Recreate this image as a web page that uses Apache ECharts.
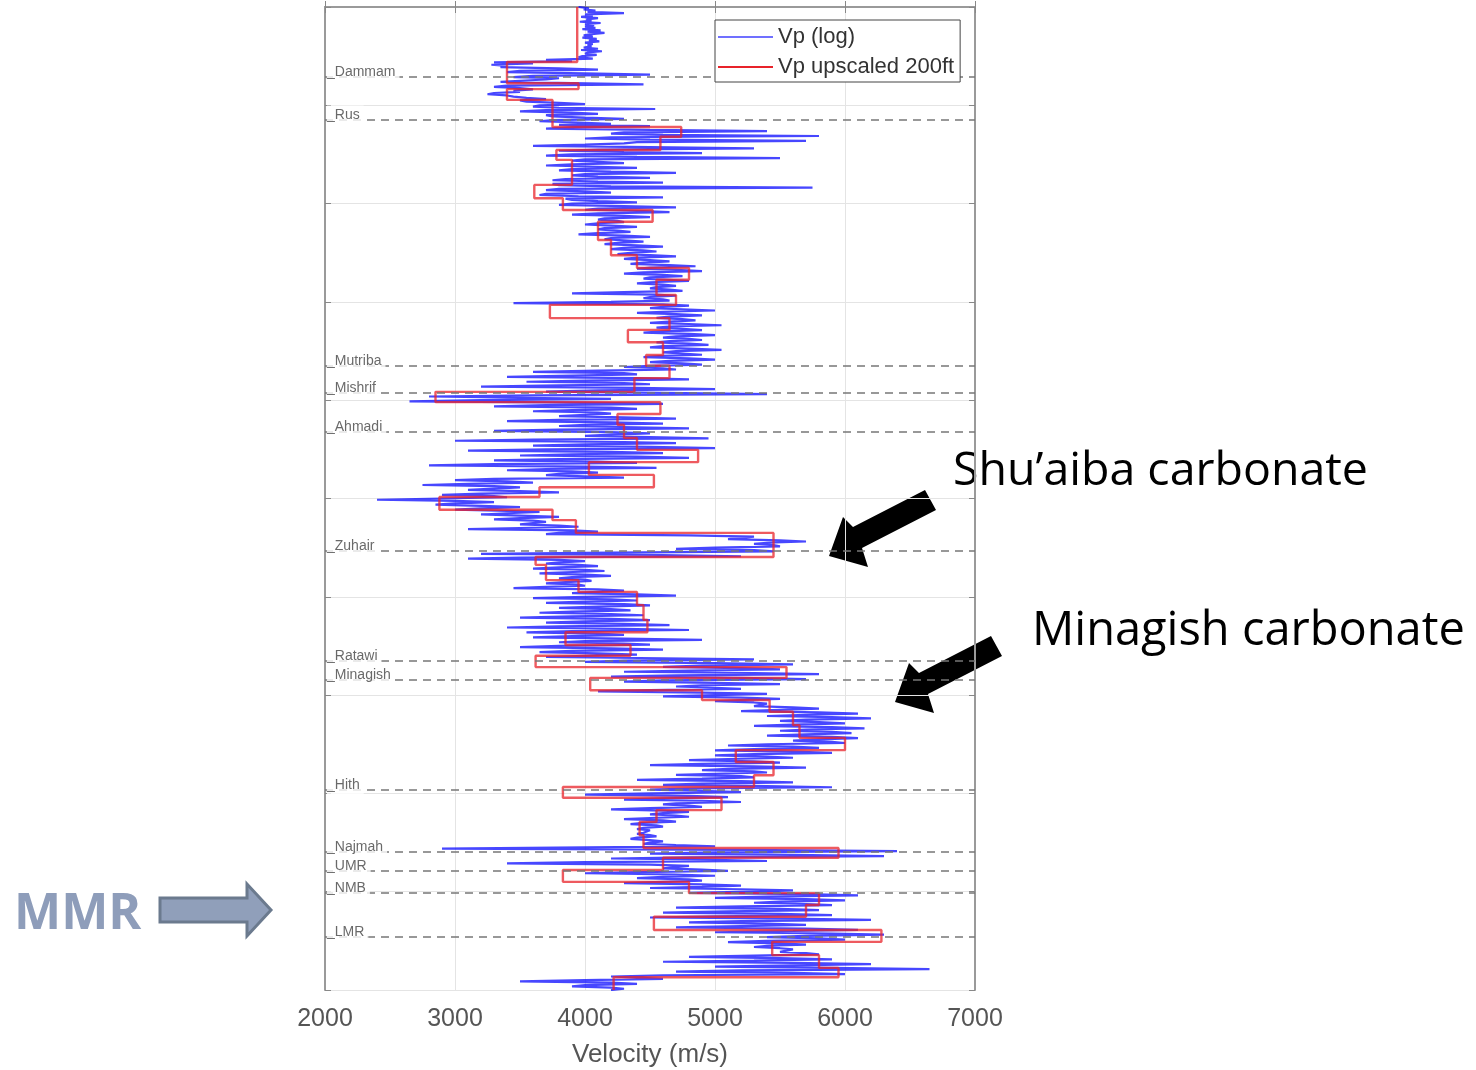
<!DOCTYPE html>
<html><head><meta charset="utf-8">
<script src="https://cdn.jsdelivr.net/npm/echarts@6/dist/echarts.min.js"></script>
<style>html,body{margin:0;padding:0;background:#fff;}#c{width:1476px;height:1070px;}</style>
</head><body><div id="c"></div>
<script>
// depth sampling of the velocity log (relative depth units)
const depthStep = 12.5;
// Vp (log), m/s, one value per depthStep from depth 0
const vpLog = [
3950,4030,3990,4080,4020,4300,4000,4060,3970,4100,4010,4050,3960,4120,4000,4070,
4000,4080,3980,4120,4020,4150,4050,3990,4060,3980,4090,4030,4110,4000,4060,4020,
4050,3990,4100,3970,4130,4020,4000,4090,3980,3950,4060,3700,3900,3300,3600,3280,
3400,3350,3800,4100,3500,3400,4000,4500,3600,3450,3800,3700,3500,3350,3900,4450,
3400,3300,3500,3600,3450,3500,3300,3250,3400,3450,3550,3700,3500,3550,3800,4000,
3650,3600,3800,4540,3700,3500,3900,4100,3700,3750,4000,4300,3750,3650,3950,4200,
3800,4500,3900,3700,4500,5400,4300,4200,4600,5800,4200,4000,4500,5700,4400,4300,
4000,3600,4500,5300,4100,3800,4300,4900,3900,3700,4400,5500,4000,3900,4100,4300,
3900,3700,4100,4400,3900,3800,4200,4700,4000,3900,4100,4500,3850,3750,4100,4600,
3750,3800,4200,5750,3800,3700,4000,4200,3700,3650,3950,4600,3850,3900,4100,4400,
3900,3800,4300,4700,4100,4000,4400,4650,4100,3900,4300,4500,4150,4100,4250,4300,
4100,4000,4200,4400,4150,4100,4250,4350,4100,3950,4300,4500,4200,4150,4300,4450,
4250,4150,4400,4600,4300,4200,4450,4550,4350,4250,4500,4700,4400,4300,4500,4650,
4450,4350,4650,4850,4500,4400,4700,4900,4450,4300,4600,4750,4500,4450,4650,4800,
4500,4400,4600,4700,4550,4500,4650,4750,4300,3900,4550,4700,4500,4450,4600,4650,
4200,3450,4600,4800,4600,4500,4750,5000,4600,4400,4700,4900,4650,4550,4750,4850,
4650,4500,4800,5050,4650,4550,4750,4900,4600,4450,4800,5000,4700,4600,4800,4900,
4650,4550,4800,4950,4600,4500,4800,5050,4700,4600,4750,4900,4600,4450,4800,5000,
4650,4500,4750,4900,4500,4300,4600,4700,4100,3600,4300,4400,3900,3400,4400,4800,
4000,3550,4300,4500,3800,3200,4400,5000,4100,3700,4600,5400,3600,2800,3500,4200,
3200,2650,4000,4600,3700,3300,4200,4400,3900,3600,4100,4200,4000,3800,4300,4700,
3800,3400,4200,4600,4000,3800,4400,4800,3800,3300,4200,4500,4200,4000,4500,4950,
3600,3000,4300,4700,4000,3600,4500,5000,3700,3100,4200,4600,3900,3500,4400,4800,
3800,3300,4100,4400,3300,2800,4000,4550,3700,3400,3900,4100,3800,3700,4000,4300,
3300,3000,3400,3600,3100,2750,3300,3500,3300,3100,3500,3800,3200,2900,3300,3400,
2900,2400,3000,3300,3000,2850,3200,3500,3200,3000,3400,3650,3400,3200,3500,3800,
3500,3300,3600,3700,3600,3500,3800,3950,3500,3100,3900,4100,3800,3700,4800,5300,
5300,5100,5500,5700,5400,5300,5450,5500,5000,4700,5300,5450,4200,3200,4600,5200,
3500,3100,3800,4000,3800,3700,3950,4100,3800,3600,4000,4150,3850,3650,4000,4200,
3900,3800,4000,4050,3850,3700,3950,4000,3700,3450,4100,4300,4100,3900,4400,4700,
4000,3600,4200,4400,4000,3700,4300,4500,4100,3800,4200,4350,3900,3650,4200,4450,
3900,3500,4200,4500,4000,3700,4300,4650,3800,3400,4300,4800,3900,3550,4100,4300,
3900,3600,4300,4900,4000,3800,4300,4500,3800,3500,4200,4600,3900,3650,4100,4400,
4000,3700,4600,5300,4300,4000,5000,5600,4900,4600,5200,5500,4800,4300,5300,5800,
4700,4200,5200,5700,4600,4300,5000,5500,4900,4700,5000,5200,4500,4100,4900,5400,
5000,4600,5200,5500,5200,5000,5300,5400,5400,5300,5600,5800,5500,5200,5800,6100,
5700,5400,5900,6200,5700,5500,5800,6000,5600,5300,5900,6150,5700,5500,5900,6050,
5700,5400,5900,6100,5800,5600,5900,6000,5400,5100,5600,5800,5300,5000,5600,5900,
5300,5000,5400,5600,5100,4800,5300,5500,4900,4500,5300,5700,5100,4900,5300,5400,
5000,4700,5200,5300,4900,4400,5200,5600,4900,4600,5400,5900,4800,4500,4900,5200,
4500,4000,4800,5100,4600,4300,4900,5200,4700,4600,4800,4900,4500,4200,4600,4800,
4600,4500,4700,4800,4500,4300,4600,4700,4450,4350,4550,4600,4450,4400,4500,4500,
4450,4400,4500,4550,4400,4350,4500,4600,4500,4450,4700,5000,4000,2900,5200,6400,
5000,4500,5600,6300,4800,4200,5000,5400,4000,3400,4500,4800,4700,4600,4900,5100,
4400,4000,4700,5000,4600,4400,4800,4900,4600,4300,4900,5200,4900,4500,5200,5600,
5300,4800,5700,6100,5400,5000,5700,6000,5500,5300,5700,5900,5200,4700,5500,5800,
5100,4600,5500,5900,5000,4500,5700,6200,5200,4800,5400,5700,5200,4700,5700,6100,
5600,5000,5900,6300,5700,5400,5800,6000,5400,5100,5500,5700,5400,5300,5500,5600,
5600,5500,5700,5800,5300,4800,5500,5900,5300,4600,5600,6200,5600,5000,5900,6650,
5200,4700,5600,6000,4600,4200,4400,4600,4000,3500,4200,4400,4000,3900,4200,4300,
4200
];
// Vp upscaled 200ft: block boundaries (depth) and block velocities (m/s)
const upscaledTops = [0,560,775,835,945,1220,1320,1455,1555,1810,1945,2065,2185,2370,2525,2655,2775,2930,3030,3165,3285,3410,3540,3650,3775,3915,4020,4140,4250,4385,4505,4630,4760,4885,4985,5115,5220,5350,5595,5675,5830,5950,6085,6235,6360,6490,6600,6715,6825,6950,7050,7170,7305,7435,7560,7680,7815,7935,8045,8170,8290,8425,8555,8655,8780,8900,9015,9135,9255,9390,9510,9645,9775,9870,10000];
const upscaledVp = [3940,3400,3950,3400,3750,4740,4580,3780,3900,3610,3830,4520,4100,4200,4400,4800,4550,4700,3730,4650,4330,4600,4470,4650,4380,2850,4580,4250,4300,4400,4870,4030,4530,3650,2880,3750,3930,5450,3620,3700,3950,4400,4450,4480,3850,4350,3620,5550,4040,4900,5420,5600,5650,6000,5160,5450,5300,3830,5050,4550,4420,4450,5950,4600,3830,4800,5800,5700,4530,6280,5440,5800,5950,4220];
// formation tops
const formationNames = ['Dammam','Rus','Mutriba','Mishrif','Ahmadi','Zuhair','Ratawi','Minagish','Hith','Najmah','UMR','NMB','LMR'];
const formationDepths = [712,1150,3652,3927,4323,5534,6653,6847,7965,8596,8789,9013,9461];

const logPts = vpLog.map((v,i)=>[v, i*depthStep]);
const upPts = [];
upscaledVp.forEach((v,i)=>{ upPts.push([v, upscaledTops[i]]); upPts.push([v, upscaledTops[i+1]]); });
const fmPts = formationNames.map((n,i)=>({value:[2000, formationDepths[i]], name:n}));

const chart = echarts.init(document.getElementById('c'));
const axisCol = '#9a9a9a';
chart.setOption({
  animation:false,
  backgroundColor:'#fff',
  grid:{left:325, top:7, right:501, bottom:80, outerBoundsMode:'none', containLabel:false},
  xAxis:[{
    type:'value', min:2000, max:7000, interval:1000, position:'bottom',
    axisLine:{show:true, lineStyle:{color:axisCol, width:2}},
    axisTick:{show:true, inside:true, length:6, lineStyle:{color:'#888'}},
    axisLabel:{fontSize:25, color:'#555', margin:17, fontFamily:'Liberation Sans', formatter:v=>String(v)},
    splitLine:{show:true, lineStyle:{color:'#e4e4e4', width:1}},
    name:'Velocity (m/s)', nameLocation:'middle', nameGap:52,
    nameTextStyle:{fontSize:26, color:'#555', fontFamily:'Liberation Sans'}
  },{
    type:'value', min:2000, max:7000, interval:1000, position:'top',
    axisLine:{show:true, lineStyle:{color:axisCol, width:2}},
    axisTick:{show:true, inside:true, length:6, lineStyle:{color:'#888'}},
    axisLabel:{show:false}, splitLine:{show:false}
  }],
  yAxis:[{
    type:'value', min:0, max:10000, interval:1000, inverse:true, position:'left',
    axisLine:{show:true, lineStyle:{color:axisCol, width:2}},
    axisTick:{show:true, inside:true, length:6, lineStyle:{color:'#888'}},
    axisLabel:{show:false},
    splitLine:{show:true, lineStyle:{color:'#e4e4e4', width:1}}
  },{
    type:'value', min:0, max:10000, interval:1000, inverse:true, position:'right',
    axisLine:{show:true, lineStyle:{color:axisCol, width:2}},
    axisTick:{show:true, inside:true, length:6, lineStyle:{color:'#888'}},
    axisLabel:{show:false}, splitLine:{show:false}
  }],
  legend:{
    z:20, left:715, top:20, orient:'vertical', icon:'rect', itemWidth:55, itemHeight:2, itemGap:8,
    padding:[6,6,4,3], borderColor:'#444', borderWidth:1, backgroundColor:'#fff',
    textStyle:{fontSize:22, color:'#333', fontFamily:'Liberation Sans'},
    data:['Vp (log)','Vp upscaled 200ft']
  },
  series:[{
    name:'Vp (log)', type:'line', data:logPts, symbol:'none', z:2,
    lineStyle:{color:'#0a0aff', width:2.2, opacity:0.75}, itemStyle:{color:'#7070ff'}
  },{
    name:'Vp upscaled 200ft', type:'line', data:upPts, symbol:'none', z:3,
    lineStyle:{color:'#e8232a', width:2.4, opacity:0.75}, itemStyle:{color:'#e8232a'}
  },{
    name:'Tops', type:'line', data:[], z:4, silent:true,
    markLine:{z:4, silent:true, symbol:'none', label:{show:false},
      lineStyle:{type:[8,6], color:'#777', width:1.6},
      data:formationDepths.map(d=>({yAxis:d}))}
  },{
    name:'Formations', type:'scatter', symbolSize:0, data:fmPts, silent:true, z:5,
    label:{show:true, position:'right', distance:2, offset:[0,-5], formatter:p=>'_'+p.name,
      fontSize:14, color:'#444', fontFamily:'Liberation Sans', backgroundColor:'#fff',
      padding:[0,4,5,0], lineHeight:14}
  }],
  graphic:[
    {type:'text', x:953, y:472, style:{text:'Shu\u2019aiba carbonate', font:'46.5px "Open Sans"', fill:'#000', verticalAlign:'middle'}},
    {type:'text', x:1032, y:632, style:{text:'Minagish carbonate', font:'47px "Open Sans"', fill:'#000', verticalAlign:'middle'}},
    {type:'polygon', shape:{points:[[829,556],[843,517],[853,527],[925,490],[936,510],[862,548],[868,567]]}, style:{fill:'#000'}},
    {type:'polygon', shape:{points:[[895,702],[909,663],[919,673],[991,636],[1002,656],[928,694],[934,713]]}, style:{fill:'#000'}},
    {type:'text', x:14, y:915, style:{text:'MMR', font:'bold 50px "Open Sans"', fill:'#8e9dba', verticalAlign:'middle'}},
    {type:'polygon', shape:{points:[[160,898],[247,898],[247,884],[271,910],[247,936],[247,922],[160,922]]}, style:{fill:'#909fba', stroke:'#6b7a8e', lineWidth:3}}
  ]
});
</script></body></html>
